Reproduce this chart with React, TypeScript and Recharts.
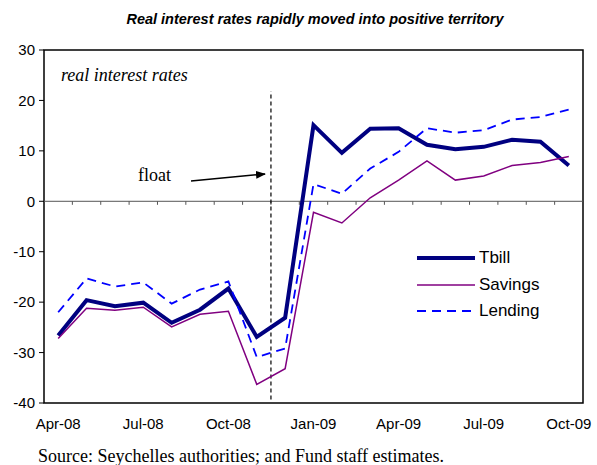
import React from 'react'
import { LineChart, Line, XAxis, YAxis, ReferenceLine, ReferenceArea } from 'recharts'

// monthly real interest rates, percent
const months = ['Apr-08', 'May-08', 'Jun-08', 'Jul-08', 'Aug-08', 'Sep-08', 'Oct-08', 'Nov-08', 'Dec-08', 'Jan-09',
  'Feb-09', 'Mar-09', 'Apr-09', 'May-09', 'Jun-09', 'Jul-09', 'Aug-09', 'Sep-09', 'Oct-09']
const tbill = [-26.6, -19.6, -20.8, -20.1, -24.1, -21.5, -17.3, -26.9, -23.1, 15.1, 9.6, 14.4, 14.5, 11.2, 10.3, 10.8, 12.2, 11.8, 7.1]
const savings = [-27.2, -21.2, -21.6, -21.0, -24.9, -22.4, -21.8, -36.3, -33.2, -2.2, -4.3, 0.7, 4.2, 8.0, 4.2, 5.0, 7.1, 7.7, 8.9]
const lending = [-22.0, -15.3, -16.9, -16.1, -20.3, -17.5, -15.9, -30.9, -29.2, 3.4, 1.5, 6.5, 9.8, 14.5, 13.6, 14.1, 16.2, 16.7, 18.2]

const yTicks = [-40, -30, -20, -10, 0, 10, 20, 30]
const xTicks = [0, 3, 6, 9, 12, 15, 18]
// exchange rate float: between Nov-08 and Dec-08
const floatAt = 7.5

const data = months.map((m, i) => ({ idx: i, month: m, tbill: tbill[i], savings: savings[i], lending: lending[i] }))

const series = [
  { key: 'tbill', name: 'Tbill', color: '#000080', width: 4, dash: undefined },
  { key: 'savings', name: 'Savings', color: '#800080', width: 1.5, dash: undefined },
  { key: 'lending', name: 'Lending', color: '#0000ff', width: 1.8, dash: '9 6' },
]

const sans = 'Arial, "Liberation Sans", sans-serif'
const serif = '"Times New Roman", "Liberation Serif", serif'

function App() {
  return (
    <div style={{ position: 'absolute', left: 0, top: 0, width: 597, height: 465, background: '#fff' }}>
      <div style={{ position: 'absolute', top: 11, left: 0, width: 630, textAlign: 'center', fontFamily: sans, fontSize: 14.5, fontWeight: 'bold', fontStyle: 'italic' }}>
        Real interest rates rapidly moved into positive territory
      </div>

      <LineChart width={597} height={465} data={data} margin={{ top: 50, right: 14, bottom: 32, left: 0 }}>
        <XAxis dataKey='idx' type='number' domain={[-0.5, 18.5]} ticks={xTicks} interval={0}
          tickFormatter={(v) => months[v]} axisLine={false} tickLine={false} tickSize={0} tickMargin={15} height={30}
          tick={{ fill: '#000', fontSize: 15, fontFamily: sans }} />
        <YAxis domain={[-40, 30]} ticks={yTicks} interval={0} width={44} axisLine={false}
          tickSize={5} tickMargin={4} tickLine={{ stroke: '#000' }}
          tick={{ fill: '#000', fontSize: 15, fontFamily: sans }} />

        <ReferenceLine y={0} stroke='#555' strokeWidth={1} />
        {months.slice(1).map((m, i) => (
          <ReferenceLine key={m} segment={[{ x: i + 0.5, y: 0 }, { x: i + 0.5, y: -0.7 }]} stroke='#555' strokeWidth={1} />
        ))}
        <ReferenceLine segment={[{ x: floatAt, y: -39.3 }, { x: floatAt, y: 21.8 }]} stroke='#000' strokeWidth={1.2} strokeDasharray='4 3' />

        {series.map((s) => (
          <Line key={s.key} dataKey={s.key} type='linear' stroke={s.color} strokeWidth={s.width}
            strokeDasharray={s.dash} dot={false} activeDot={false} isAnimationActive={false} />
        ))}

        <ReferenceArea x1={-0.5} x2={18.5} y1={-40} y2={30} fill='none' stroke='#000' strokeWidth={1.5} />
      </LineChart>

      <div style={{ position: 'absolute', left: 61, top: 65, fontFamily: serif, fontStyle: 'italic', fontSize: 18 }}>
        real interest rates
      </div>
      <div style={{ position: 'absolute', left: 138, top: 165, fontFamily: serif, fontSize: 18 }}>float</div>
      <svg style={{ position: 'absolute', left: 0, top: 0 }} width={597} height={465} pointerEvents='none'>
        <defs>
          <marker id='head' markerWidth='10' markerHeight='8' refX='9' refY='4' orient='auto' markerUnits='userSpaceOnUse'>
            <path d='M0,0 L10,4 L0,8 Z' fill='#000' />
          </marker>
        </defs>
        <line x1={191} y1={181} x2={265} y2={174} stroke='#000' strokeWidth={1.5} markerEnd='url(#head)' />
      </svg>

      <div style={{ position: 'absolute', left: 417, top: 245, fontFamily: sans, fontSize: 17 }}>
        {series.map((s) => (
          <div key={s.key} style={{ display: 'flex', alignItems: 'center', height: 26.5 }}>
            <svg width={62} height={10}>
              <line x1={0} y1={5} x2={58} y2={5} stroke={s.color} strokeWidth={s.width} strokeDasharray={s.dash} />
            </svg>
            <span>{s.name}</span>
          </div>
        ))}
      </div>

      <div style={{ position: 'absolute', left: 38, top: 446, fontFamily: serif, fontSize: 18, whiteSpace: 'nowrap' }}>
        Source: Seychelles authorities; and Fund staff estimates.
      </div>
    </div>
  )
}

export default App
